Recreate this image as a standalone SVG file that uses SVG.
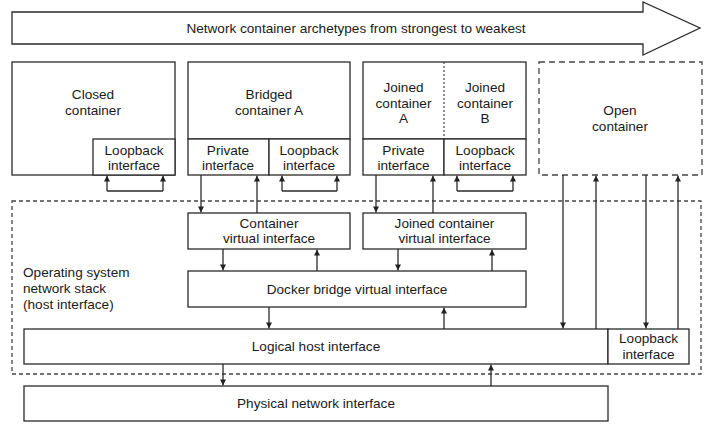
<svg xmlns="http://www.w3.org/2000/svg" width="715" height="432" viewBox="0 0 715 432">
<defs>
<marker id="ah" viewBox="0 0 10 10" refX="10" refY="5" markerWidth="6" markerHeight="8" markerUnits="userSpaceOnUse" orient="auto">
<path d="M0,0 L10,5 L0,10 Z" fill="#222"/>
</marker>
<style>
.b{fill:#fff;stroke:#2a2a2a;stroke-width:1.3}
.l{fill:none;stroke:#2a2a2a;stroke-width:1.3}
.a{fill:none;stroke:#2a2a2a;stroke-width:1.3;marker-end:url(#ah)}
.t{font-family:"Liberation Sans",Arial,sans-serif;font-size:13.6px;fill:#1a1a1a;text-anchor:middle}
.tl{font-family:"Liberation Sans",Arial,sans-serif;font-size:13.6px;fill:#1a1a1a;text-anchor:start}
</style>
</defs>
<rect width="715" height="432" fill="#fff"/>

<g id="archetype-arrow">
<path class="b" d="M12,12 L643,12 L643,2 L700,28 L643,55 L643,44 L12,44 Z"/>
<text class="t" x="356" y="33">Network container archetypes from strongest to weakest</text>
</g>

<g id="os-stack">
<rect x="12" y="201" width="689" height="173" fill="none" stroke="#444" stroke-width="1.3" stroke-dasharray="4,3"/>
<text class="tl" x="23" y="277">Operating system</text>
<text class="tl" x="23" y="293">network stack</text>
<text class="tl" x="23" y="309">(host interface)</text>
</g>

<g id="closed-container">
<rect class="b" x="12" y="62" width="163" height="113"/>
<text class="t" x="93" y="99">Closed</text>
<text class="t" x="93" y="115">container</text>
</g>
<g id="closed-loopback">
<rect class="b" x="93" y="139" width="82" height="36"/>
<text class="t" x="134" y="155">Loopback</text>
<text class="t" x="134" y="170">interface</text>
</g>

<g id="bridged-container-a">
<rect class="b" x="188" y="62" width="162" height="77"/>
<text class="t" x="269" y="99">Bridged</text>
<text class="t" x="269" y="115">container A</text>
</g>
<g id="bridged-private">
<rect class="b" x="188" y="139" width="81" height="36"/>
<text class="t" x="228" y="155">Private</text>
<text class="t" x="228" y="170">interface</text>
</g>
<g id="bridged-loopback">
<rect class="b" x="269" y="139" width="81" height="36"/>
<text class="t" x="309" y="155">Loopback</text>
<text class="t" x="309" y="170">interface</text>
</g>

<g id="joined-containers">
<rect class="b" x="363" y="62" width="163" height="77"/>
<line x1="444" y1="62" x2="444" y2="139" stroke="#444" stroke-width="1.2" stroke-dasharray="2,2"/>
<text class="t" x="403.5" y="92">Joined</text>
<text class="t" x="403.5" y="108">container</text>
<text class="t" x="403.5" y="123">A</text>
<text class="t" x="485" y="92">Joined</text>
<text class="t" x="485" y="108">container</text>
<text class="t" x="485" y="123">B</text>
</g>
<g id="joined-private">
<rect class="b" x="363" y="139" width="81" height="36"/>
<text class="t" x="403.5" y="155">Private</text>
<text class="t" x="403.5" y="170">interface</text>
</g>
<g id="joined-loopback">
<rect class="b" x="444" y="139" width="82" height="36"/>
<text class="t" x="485" y="155">Loopback</text>
<text class="t" x="485" y="170">interface</text>
</g>

<g id="open-container">
<rect x="539" y="62" width="163" height="113" fill="none" stroke="#444" stroke-width="1.3" stroke-dasharray="6,4"/>
<text class="t" x="620" y="115">Open</text>
<text class="t" x="620" y="131">container</text>
</g>

<g id="container-virtual">
<rect class="b" x="188" y="213" width="162" height="36"/>
<text class="t" x="269" y="228">Container</text>
<text class="t" x="269" y="243">virtual interface</text>
</g>
<g id="joined-virtual">
<rect class="b" x="363" y="213" width="163" height="36"/>
<text class="t" x="444.5" y="228">Joined container</text>
<text class="t" x="444.5" y="243">virtual interface</text>
</g>
<g id="docker-bridge">
<rect class="b" x="188" y="271" width="338" height="36"/>
<text class="t" x="357" y="294">Docker bridge virtual interface</text>
</g>
<g id="logical-host">
<rect class="b" x="24" y="329" width="584" height="35"/>
<text class="t" x="316" y="351">Logical host interface</text>
</g>
<g id="host-loopback">
<rect class="b" x="608" y="329" width="81" height="35"/>
<text class="t" x="648.5" y="343">Loopback</text>
<text class="t" x="648.5" y="359">interface</text>
</g>
<g id="physical">
<rect class="b" x="24" y="386" width="584" height="35"/>
<text class="t" x="316" y="408">Physical network interface</text>
</g>

<g id="connectors">
<polyline class="l" points="107,191 163,191"/>
<line class="a" x1="107" y1="191" x2="107" y2="175.6"/>
<line class="a" x1="163" y1="191" x2="163" y2="175.6"/>
<polyline class="l" points="282,191 337,191"/>
<line class="a" x1="282" y1="191" x2="282" y2="175.6"/>
<line class="a" x1="337" y1="191" x2="337" y2="175.6"/>
<polyline class="l" points="457,191 513,191"/>
<line class="a" x1="457" y1="191" x2="457" y2="175.6"/>
<line class="a" x1="513" y1="191" x2="513" y2="175.6"/>
<line class="a" x1="201" y1="175" x2="201" y2="212.4"/>
<line class="a" x1="257" y1="213" x2="257" y2="175.6"/>
<line class="a" x1="376" y1="175" x2="376" y2="212.4"/>
<line class="a" x1="433" y1="213" x2="433" y2="175.6"/>
<line class="a" x1="223" y1="249" x2="223" y2="270.4"/>
<line class="a" x1="317" y1="271" x2="317" y2="249.6"/>
<line class="a" x1="398" y1="249" x2="398" y2="270.4"/>
<line class="a" x1="492" y1="271" x2="492" y2="249.6"/>
<line class="a" x1="269" y1="307" x2="269" y2="328.4"/>
<line class="a" x1="444" y1="329" x2="444" y2="307.6"/>
<line class="a" x1="223" y1="364" x2="223" y2="385.4"/>
<line class="a" x1="491" y1="386" x2="491" y2="364.6"/>
<line class="a" x1="563" y1="175" x2="563" y2="328.4"/>
<line class="a" x1="596" y1="329" x2="596" y2="175.6"/>
<line class="a" x1="646" y1="175" x2="646" y2="328.4"/>
<line class="a" x1="678" y1="329" x2="678" y2="175.6"/>
</g>
</svg>
